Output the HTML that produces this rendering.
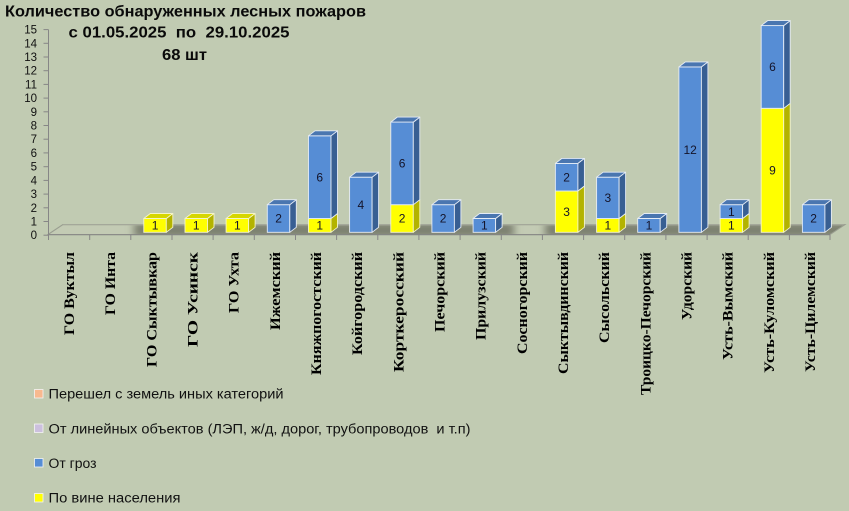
<!DOCTYPE html>
<html><head><meta charset="utf-8"><style>
html,body{margin:0;padding:0;background:#c1cbb2;}
svg{display:block;}
.bf{fill:#568dd5;stroke:#e4ebf5;stroke-width:0.9;}
.bs{fill:#385f93;stroke:#e4ebf5;stroke-width:0.9;stroke-linejoin:round;}
.bt{fill:#4a76b0;stroke:#e4ebf5;stroke-width:0.9;stroke-linejoin:round;}
.yf{fill:#ffff00;stroke:#f4f4c8;stroke-width:0.9;}
.ys{fill:#b3b300;stroke:#f4f4c8;stroke-width:0.9;stroke-linejoin:round;}
.yt{fill:#d6d600;stroke:#f4f4c8;stroke-width:0.9;stroke-linejoin:round;}
.v{font-family:"Liberation Sans",sans-serif;font-size:12px;fill:#14142a;text-anchor:middle;}
.yl{font-family:"Liberation Sans",sans-serif;font-size:11.5px;fill:#111;text-anchor:end;}
.xl{font-family:"Liberation Serif",serif;font-weight:bold;font-size:15px;fill:#000;text-anchor:end;}
.lg{font-family:"Liberation Sans",sans-serif;font-size:13.5px;fill:#111;}
.tt{font-family:"Liberation Sans",sans-serif;font-weight:bold;font-size:15.5px;fill:#0a0a0a;}
</style></head><body>
<svg width="849" height="511" viewBox="0 0 849 511" xmlns="http://www.w3.org/2000/svg">
<defs>
<filter id="blur" x="-20%" y="-100%" width="140%" height="300%"><feGaussianBlur stdDeviation="4"/></filter>
<clipPath id="floorClip"><polygon points="48,234.5 830,234.5 845,224.5 63,224.5"/></clipPath>
</defs>
<rect width="849" height="511" fill="#c1cbb2"/>

<text class="tt" x="5" y="16.5" textLength="361" lengthAdjust="spacingAndGlyphs">Количество обнаруженных лесных пожаров</text>
<text class="tt" x="68.5" y="37.3" textLength="221" lengthAdjust="spacingAndGlyphs" xml:space="preserve">с 01.05.2025  по  29.10.2025</text>
<text class="tt" x="162" y="60" textLength="45" lengthAdjust="spacingAndGlyphs">68 шт</text>

<polygon points="48,234.5 830,234.5 845,224.5 63,224.5" fill="#c3cbb4" stroke="#9a9e90" stroke-width="1"/>
<g clip-path="url(#floorClip)">
<g filter="url(#blur)" fill="#7b8070">
<rect x="134" y="222" width="51" height="16"/>
<rect x="175" y="222" width="51" height="16"/>
<rect x="216" y="222" width="51" height="16"/>
<rect x="257" y="222" width="51" height="16"/>
<rect x="298" y="222" width="51" height="16"/>
<rect x="340" y="222" width="51" height="16"/>
<rect x="381" y="222" width="51" height="16"/>
<rect x="422" y="222" width="51" height="16"/>
<rect x="463" y="222" width="51" height="16"/>
<rect x="545" y="222" width="51" height="16"/>
<rect x="587" y="222" width="51" height="16"/>
<rect x="628" y="222" width="51" height="16"/>
<rect x="669" y="222" width="51" height="16"/>
<rect x="710" y="222" width="51" height="16"/>
<rect x="751" y="222" width="51" height="16"/>
<rect x="792" y="222" width="60" height="16"/>
</g>
</g>
<line x1="63" y1="224.8" x2="845" y2="224.8" stroke="#a8ac9d" stroke-width="1.2"/>
<line x1="48" y1="234.5" x2="63" y2="224.5" stroke="#9a9e90" stroke-width="1"/>
<line x1="830" y1="234.5" x2="845" y2="224.5" stroke="#9a9e90" stroke-width="1"/>

<g stroke="#868686" stroke-width="1">
<line x1="48.5" y1="29.6" x2="48.5" y2="235.2"/>
<line x1="43.5" y1="235.2" x2="48.5" y2="235.2"/>
<line x1="43.5" y1="221.5" x2="48.5" y2="221.5"/>
<line x1="43.5" y1="207.8" x2="48.5" y2="207.8"/>
<line x1="43.5" y1="194.1" x2="48.5" y2="194.1"/>
<line x1="43.5" y1="180.4" x2="48.5" y2="180.4"/>
<line x1="43.5" y1="166.7" x2="48.5" y2="166.7"/>
<line x1="43.5" y1="152.9" x2="48.5" y2="152.9"/>
<line x1="43.5" y1="139.2" x2="48.5" y2="139.2"/>
<line x1="43.5" y1="125.5" x2="48.5" y2="125.5"/>
<line x1="43.5" y1="111.8" x2="48.5" y2="111.8"/>
<line x1="43.5" y1="98.1" x2="48.5" y2="98.1"/>
<line x1="43.5" y1="84.4" x2="48.5" y2="84.4"/>
<line x1="43.5" y1="70.7" x2="48.5" y2="70.7"/>
<line x1="43.5" y1="57.0" x2="48.5" y2="57.0"/>
<line x1="43.5" y1="43.3" x2="48.5" y2="43.3"/>
<line x1="43.5" y1="29.6" x2="48.5" y2="29.6"/>
</g>
<g>
<text class="yl" x="37" y="239.2">0</text>
<text class="yl" x="37" y="225.5">1</text>
<text class="yl" x="37" y="211.8">2</text>
<text class="yl" x="37" y="198.1">3</text>
<text class="yl" x="37" y="184.4">4</text>
<text class="yl" x="37" y="170.7">5</text>
<text class="yl" x="37" y="156.9">6</text>
<text class="yl" x="37" y="143.2">7</text>
<text class="yl" x="37" y="129.5">8</text>
<text class="yl" x="37" y="115.8">9</text>
<text class="yl" x="37" y="102.1">10</text>
<text class="yl" x="37" y="88.4">11</text>
<text class="yl" x="37" y="74.7">12</text>
<text class="yl" x="37" y="61.0">13</text>
<text class="yl" x="37" y="47.3">14</text>
<text class="yl" x="37" y="33.6">15</text>
</g>

<g stroke="#868686" stroke-width="1">
<line x1="48" y1="234.8" x2="830" y2="234.8"/>
<line x1="48.5" y1="234.8" x2="48.5" y2="240"/>
<line x1="89.7" y1="234.8" x2="89.7" y2="240"/>
<line x1="130.8" y1="234.8" x2="130.8" y2="240"/>
<line x1="172" y1="234.8" x2="172" y2="240"/>
<line x1="213.1" y1="234.8" x2="213.1" y2="240"/>
<line x1="254.3" y1="234.8" x2="254.3" y2="240"/>
<line x1="295.5" y1="234.8" x2="295.5" y2="240"/>
<line x1="336.6" y1="234.8" x2="336.6" y2="240"/>
<line x1="377.8" y1="234.8" x2="377.8" y2="240"/>
<line x1="418.9" y1="234.8" x2="418.9" y2="240"/>
<line x1="460.1" y1="234.8" x2="460.1" y2="240"/>
<line x1="501.3" y1="234.8" x2="501.3" y2="240"/>
<line x1="542.4" y1="234.8" x2="542.4" y2="240"/>
<line x1="583.6" y1="234.8" x2="583.6" y2="240"/>
<line x1="624.7" y1="234.8" x2="624.7" y2="240"/>
<line x1="665.9" y1="234.8" x2="665.9" y2="240"/>
<line x1="707.1" y1="234.8" x2="707.1" y2="240"/>
<line x1="748.2" y1="234.8" x2="748.2" y2="240"/>
<line x1="789.4" y1="234.8" x2="789.4" y2="240"/>
<line x1="830" y1="234.8" x2="830" y2="240"/>
</g>

<g transform="translate(143.8,0)">
<rect class="yf" x="0" y="218.5" width="22.5" height="13.8"/>
<polygon class="ys" points="22.5,232.3 29,227.3 29,213.5 22.5,218.5"/>
<polygon class="yt" points="0,218.5 6.5,213.5 29,213.5 22.5,218.5"/>
<text class="v" x="11.25" y="229.6">1</text>
</g>
<g transform="translate(185,0)">
<rect class="yf" x="0" y="218.5" width="22.5" height="13.8"/>
<polygon class="ys" points="22.5,232.3 29,227.3 29,213.5 22.5,218.5"/>
<polygon class="yt" points="0,218.5 6.5,213.5 29,213.5 22.5,218.5"/>
<text class="v" x="11.25" y="229.6">1</text>
</g>
<g transform="translate(226.1,0)">
<rect class="yf" x="0" y="218.5" width="22.5" height="13.8"/>
<polygon class="ys" points="22.5,232.3 29,227.3 29,213.5 22.5,218.5"/>
<polygon class="yt" points="0,218.5 6.5,213.5 29,213.5 22.5,218.5"/>
<text class="v" x="11.25" y="229.6">1</text>
</g>
<g transform="translate(267.3,0)">
<rect class="bf" x="0" y="204.7" width="22.5" height="27.6"/>
<polygon class="bs" points="22.5,232.3 29,227.3 29,199.7 22.5,204.7"/>
<polygon class="bt" points="0,204.7 6.5,199.7 29,199.7 22.5,204.7"/>
<text class="v" x="11.25" y="222.7">2</text>
</g>
<g transform="translate(308.5,0)">
<rect class="yf" x="0" y="218.5" width="22.5" height="13.8"/>
<polygon class="ys" points="22.5,232.3 29,227.3 29,213.5 22.5,218.5"/>
<rect class="bf" x="0" y="135.8" width="22.5" height="82.7"/>
<polygon class="bs" points="22.5,218.5 29,213.5 29,130.8 22.5,135.8"/>
<polygon class="bt" points="0,135.8 6.5,130.8 29,130.8 22.5,135.8"/>
<text class="v" x="11.25" y="229.6">1</text>
<text class="v" x="11.25" y="181.4">6</text>
</g>
<g transform="translate(349.6,0)">
<rect class="bf" x="0" y="177.2" width="22.5" height="55.1"/>
<polygon class="bs" points="22.5,232.3 29,227.3 29,172.2 22.5,177.2"/>
<polygon class="bt" points="0,177.2 6.5,172.2 29,172.2 22.5,177.2"/>
<text class="v" x="11.25" y="208.9">4</text>
</g>
<g transform="translate(390.8,0)">
<rect class="yf" x="0" y="204.7" width="22.5" height="27.6"/>
<polygon class="ys" points="22.5,232.3 29,227.3 29,199.7 22.5,204.7"/>
<rect class="bf" x="0" y="122.1" width="22.5" height="82.6"/>
<polygon class="bs" points="22.5,204.7 29,199.7 29,117.1 22.5,122.1"/>
<polygon class="bt" points="0,122.1 6.5,117.1 29,117.1 22.5,122.1"/>
<text class="v" x="11.25" y="222.7">2</text>
<text class="v" x="11.25" y="167.6">6</text>
</g>
<g transform="translate(431.9,0)">
<rect class="bf" x="0" y="204.7" width="22.5" height="27.6"/>
<polygon class="bs" points="22.5,232.3 29,227.3 29,199.7 22.5,204.7"/>
<polygon class="bt" points="0,204.7 6.5,199.7 29,199.7 22.5,204.7"/>
<text class="v" x="11.25" y="222.7">2</text>
</g>
<g transform="translate(473.1,0)">
<rect class="bf" x="0" y="218.5" width="22.5" height="13.8"/>
<polygon class="bs" points="22.5,232.3 29,227.3 29,213.5 22.5,218.5"/>
<polygon class="bt" points="0,218.5 6.5,213.5 29,213.5 22.5,218.5"/>
<text class="v" x="11.25" y="229.6">1</text>
</g>
<g transform="translate(555.4,0)">
<rect class="yf" x="0" y="191" width="22.5" height="41.3"/>
<polygon class="ys" points="22.5,232.3 29,227.3 29,186 22.5,191"/>
<rect class="bf" x="0" y="163.4" width="22.5" height="27.6"/>
<polygon class="bs" points="22.5,191 29,186 29,158.4 22.5,163.4"/>
<polygon class="bt" points="0,163.4 6.5,158.4 29,158.4 22.5,163.4"/>
<text class="v" x="11.25" y="215.8">3</text>
<text class="v" x="11.25" y="181.4">2</text>
</g>
<g transform="translate(596.6,0)">
<rect class="yf" x="0" y="218.5" width="22.5" height="13.8"/>
<polygon class="ys" points="22.5,232.3 29,227.3 29,213.5 22.5,218.5"/>
<rect class="bf" x="0" y="177.2" width="22.5" height="41.3"/>
<polygon class="bs" points="22.5,218.5 29,213.5 29,172.2 22.5,177.2"/>
<polygon class="bt" points="0,177.2 6.5,172.2 29,172.2 22.5,177.2"/>
<text class="v" x="11.25" y="229.6">1</text>
<text class="v" x="11.25" y="202.1">3</text>
</g>
<g transform="translate(637.7,0)">
<rect class="bf" x="0" y="218.5" width="22.5" height="13.8"/>
<polygon class="bs" points="22.5,232.3 29,227.3 29,213.5 22.5,218.5"/>
<polygon class="bt" points="0,218.5 6.5,213.5 29,213.5 22.5,218.5"/>
<text class="v" x="11.25" y="229.6">1</text>
</g>
<g transform="translate(678.9,0)">
<rect class="bf" x="0" y="66.9" width="22.5" height="165.4"/>
<polygon class="bs" points="22.5,232.3 29,227.3 29,61.9 22.5,66.9"/>
<polygon class="bt" points="0,66.9 6.5,61.9 29,61.9 22.5,66.9"/>
<text class="v" x="11.25" y="153.8">12</text>
</g>
<g transform="translate(720.1,0)">
<rect class="yf" x="0" y="218.5" width="22.5" height="13.8"/>
<polygon class="ys" points="22.5,232.3 29,227.3 29,213.5 22.5,218.5"/>
<rect class="bf" x="0" y="204.7" width="22.5" height="13.8"/>
<polygon class="bs" points="22.5,218.5 29,213.5 29,199.7 22.5,204.7"/>
<polygon class="bt" points="0,204.7 6.5,199.7 29,199.7 22.5,204.7"/>
<text class="v" x="11.25" y="229.6">1</text>
<text class="v" x="11.25" y="215.8">1</text>
</g>
<g transform="translate(761.2,0)">
<rect class="yf" x="0" y="108.3" width="22.5" height="124"/>
<polygon class="ys" points="22.5,232.3 29,227.3 29,103.3 22.5,108.3"/>
<rect class="bf" x="0" y="25.6" width="22.5" height="82.7"/>
<polygon class="bs" points="22.5,108.3 29,103.3 29,20.6 22.5,25.6"/>
<polygon class="bt" points="0,25.6 6.5,20.6 29,20.6 22.5,25.6"/>
<text class="v" x="11.25" y="174.5">9</text>
<text class="v" x="11.25" y="71.2">6</text>
</g>
<g transform="translate(802.4,0)">
<rect class="bf" x="0" y="204.7" width="22.5" height="27.6"/>
<polygon class="bs" points="22.5,232.3 29,227.3 29,199.7 22.5,204.7"/>
<polygon class="bt" points="0,204.7 6.5,199.7 29,199.7 22.5,204.7"/>
<text class="v" x="11.25" y="222.7">2</text>
</g>

<text class="xl" transform="translate(74.1,252) rotate(-90)" textLength="83" lengthAdjust="spacingAndGlyphs">ГО Вуктыл</text>
<text class="xl" transform="translate(115.2,252) rotate(-90)" textLength="63" lengthAdjust="spacingAndGlyphs">ГО Инта</text>
<text class="xl" transform="translate(156.4,252) rotate(-90)" textLength="115" lengthAdjust="spacingAndGlyphs">ГО Сыктывкар</text>
<text class="xl" transform="translate(197.6,252) rotate(-90)" textLength="95" lengthAdjust="spacingAndGlyphs">ГО Усинск</text>
<text class="xl" transform="translate(238.7,252) rotate(-90)" textLength="61" lengthAdjust="spacingAndGlyphs">ГО Ухта</text>
<text class="xl" transform="translate(279.9,252) rotate(-90)" textLength="78" lengthAdjust="spacingAndGlyphs">Ижемский</text>
<text class="xl" transform="translate(321,252) rotate(-90)" textLength="123" lengthAdjust="spacingAndGlyphs">Княжпогостский</text>
<text class="xl" transform="translate(362.2,252) rotate(-90)" textLength="103" lengthAdjust="spacingAndGlyphs">Койгородский</text>
<text class="xl" transform="translate(403.4,252) rotate(-90)" textLength="120" lengthAdjust="spacingAndGlyphs">Корткеросский</text>
<text class="xl" transform="translate(444.5,252) rotate(-90)" textLength="80" lengthAdjust="spacingAndGlyphs">Печорский</text>
<text class="xl" transform="translate(485.7,252) rotate(-90)" textLength="88" lengthAdjust="spacingAndGlyphs">Прилузский</text>
<text class="xl" transform="translate(526.8,252) rotate(-90)" textLength="102" lengthAdjust="spacingAndGlyphs">Сосногорский</text>
<text class="xl" transform="translate(568,252) rotate(-90)" textLength="122" lengthAdjust="spacingAndGlyphs">Сыктывдинский</text>
<text class="xl" transform="translate(609.2,252) rotate(-90)" textLength="91" lengthAdjust="spacingAndGlyphs">Сысольский</text>
<text class="xl" transform="translate(650.3,252) rotate(-90)" textLength="143" lengthAdjust="spacingAndGlyphs">Троицко-Печорский</text>
<text class="xl" transform="translate(691.5,252) rotate(-90)" textLength="68" lengthAdjust="spacingAndGlyphs">Удорский</text>
<text class="xl" transform="translate(732.6,252) rotate(-90)" textLength="108" lengthAdjust="spacingAndGlyphs">Усть-Вымский</text>
<text class="xl" transform="translate(773.8,252) rotate(-90)" textLength="121" lengthAdjust="spacingAndGlyphs">Усть-Куломский</text>
<text class="xl" transform="translate(815,252) rotate(-90)" textLength="120" lengthAdjust="spacingAndGlyphs">Усть-Цилемский</text>

<rect x="34.5" y="389.5" width="8.5" height="8.5" fill="#f8b98f" stroke="#f4f4f4" stroke-width="0.8"/>
<text class="lg" x="48.5" y="398.3" textLength="235" lengthAdjust="spacingAndGlyphs">Перешел с земель иных категорий</text>
<rect x="34.5" y="424" width="8.5" height="8.5" fill="#ccc0de" stroke="#f4f4f4" stroke-width="0.8"/>
<text class="lg" x="48.5" y="433.5" textLength="422" lengthAdjust="spacingAndGlyphs" xml:space="preserve">От линейных объектов (ЛЭП, ж/д, дорог, трубопроводов  и т.п)</text>
<rect x="34.5" y="458.5" width="8.5" height="8.5" fill="#568dd5" stroke="#f4f4f4" stroke-width="0.8"/>
<text class="lg" x="48.5" y="468" textLength="48" lengthAdjust="spacingAndGlyphs">От гроз</text>
<rect x="34.5" y="493.5" width="8.5" height="8.5" fill="#ffff00" stroke="#f4f4f4" stroke-width="0.8"/>
<text class="lg" x="48.5" y="502.5" textLength="132" lengthAdjust="spacingAndGlyphs">По вине населения</text>
</svg>
</body></html>
